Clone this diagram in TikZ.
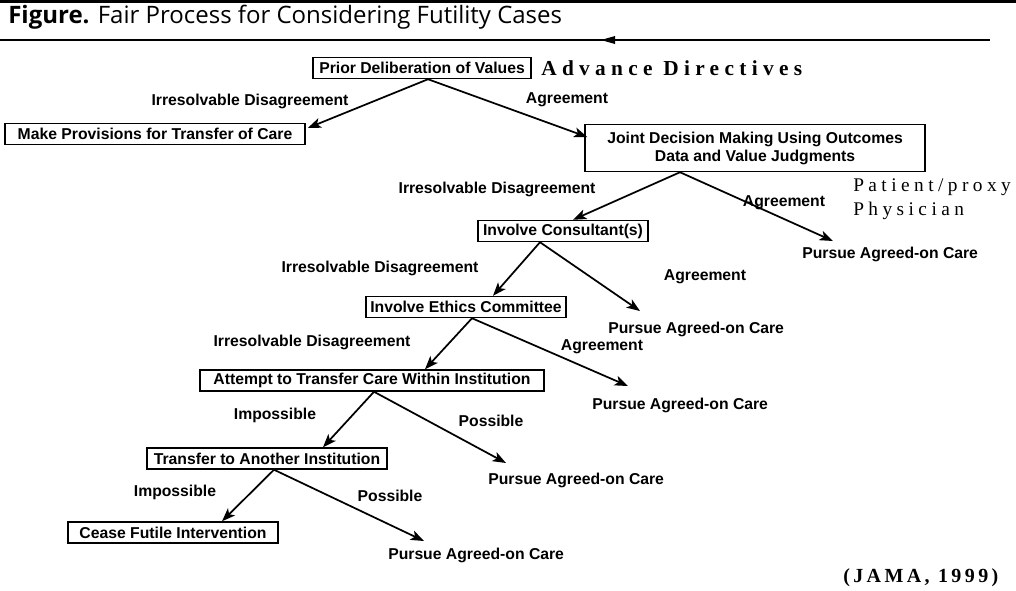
\documentclass[tikz,border=0pt]{standalone}
\usepackage{fontspec}
\setmainfont{Liberation Sans}
\newfontfamily\titlefont{Open Sans}
\newfontfamily\serifa[LetterSpace=25]{Liberation Serif}
\newfontfamily\serifb[LetterSpace=23]{Liberation Serif}
\newfontfamily\serifc[LetterSpace=17]{Liberation Serif}
\usetikzlibrary{arrows.meta}
\begin{document}
\begin{tikzpicture}[x=0.75pt,y=-0.75pt,
  box/.style={draw, line width=1.1pt, inner sep=0pt, minimum height=15.75pt,
    font=\fontsize{11.8}{13.5}\bfseries},
  lab/.style={inner sep=0pt, font=\fontsize{11.8}{13.5}\bfseries},
  arr/.style={line width=1.3pt, -{Stealth[length=10pt,width=7.5pt,inset=2.5pt]}},
  ser/.style={inner sep=0pt, anchor=west, font=\serifb\fontsize{14.5}{17}\selectfont}]
\useasboundingbox (0,0) rectangle (1016,590);
% rules
\draw[line width=2.2pt] (0,1.5) -- (1016,1.5);
\draw[line width=1.5pt] (0,40) -- (990,40);
\fill (601,40) -- (615,36) -- (615,44) -- cycle;
% title
\node[anchor=west, inner sep=0pt] (title) at (8,17)
  {\titlefont\fontsize{18}{20}\selectfont\bfseries Figure. \mdseries Fair Process for Considering Futility Cases};
% boxes
\node[box, minimum width=163.5pt] (prior) at (422,68) {Prior Deliberation of Values};
\node[box, minimum width=225pt] (make) at (155,134) {Make Provisions for Transfer of Care};
\node[box, minimum width=255pt, minimum height=35.25pt, align=center] (joint) at (755,148)
  {Joint Decision Making Using Outcomes\\Data and Value Judgments};
\node[box, minimum width=127.5pt] (cons) at (563,231) {Involve Consultant(s)};
\node[box, minimum width=150pt] (eth) at (466,307) {Involve Ethics Committee};
\node[box, minimum width=258pt] (att) at (372,380.5) {Attempt to Transfer Care Within Institution};
\node[box, minimum width=180pt] (trans) at (267,458.5) {Transfer to Another Institution};
\node[box, minimum width=157.5pt] (cease) at (173,532.5) {Cease Futile Intervention};
% outcomes
\node[lab, anchor=west] (p1) at (802,254) {Pursue Agreed-on Care};
\node[lab, anchor=west] (p2) at (608,329) {Pursue Agreed-on Care};
\node[lab, anchor=west] (p3) at (592,405) {Pursue Agreed-on Care};
\node[lab, anchor=west] (p4) at (488,480) {Pursue Agreed-on Care};
\node[lab, anchor=west] (p5) at (388,555) {Pursue Agreed-on Care};
% edge labels
\node[lab] (l1) at (250,101) {Irresolvable Disagreement};
\node[lab] (l2) at (567,100) {Agreement};
\node[lab] (l3) at (497,189) {Irresolvable Disagreement};
\node[lab] (l4) at (784,203) {Agreement};
\node[lab] (l5) at (380,268) {Irresolvable Disagreement};
\node[lab] (l6) at (705,277) {Agreement};
\node[lab] (l7) at (312,342) {Irresolvable Disagreement};
\node[lab] (l8) at (602,347) {Agreement};
\node[lab] (l9) at (275,415) {Impossible};
\node[lab] (l10) at (491,421) {Possible};
\node[lab] (l11) at (175,492) {Impossible};
\node[lab] (l12) at (390,496) {Possible};
% serif annotations
\node[inner sep=0pt, anchor=west, font=\serifa\fontsize{16}{18}\bfseries] (adv) at (541,68) {Advance Directives};
\node[ser] (pat) at (853,187) {Patient/proxy};
\node[ser] (phy) at (853,211) {Physician};
\node[inner sep=0pt, anchor=west, font=\serifc\fontsize{15}{17}\bfseries] (jama) at (843,578) {(JAMA, 1999)};
% arrows
\draw[arr] ([shift={(6,0)}]prior.south) -- ([shift={(2,-6)}]make.east);
\draw[arr] ([shift={(6,0)}]prior.south) -- ([shift={(3,-11)}]joint.west);
\draw[arr] ([shift={(-75,0)}]joint.south) -- ([shift={(10,0)}]cons.north);
\draw[arr] ([shift={(-75,0)}]joint.south) -- ([shift={(31,-13)}]p1.west);
\draw[arr] ([shift={(-23,0)}]cons.south) -- ([shift={(27,0)}]eth.north);
\draw[arr] ([shift={(-23,0)}]cons.south) -- ([shift={(32,-18)}]p2.west);
\draw[arr] ([shift={(6,0)}]eth.south) -- ([shift={(53,0)}]att.north);
\draw[arr] ([shift={(6,0)}]eth.south) -- ([shift={(36,-19)}]p3.west);
\draw[arr] ([shift={(2,0)}]att.south) -- ([shift={(56,0)}]trans.north);
\draw[arr] ([shift={(2,0)}]att.south) -- ([shift={(18,-17)}]p4.west);
\draw[arr] ([shift={(7,0)}]trans.south) -- ([shift={(49,0)}]cease.north);
\draw[arr] ([shift={(7,0)}]trans.south) -- ([shift={(36,-14)}]p5.west);
\end{tikzpicture}
\end{document}
